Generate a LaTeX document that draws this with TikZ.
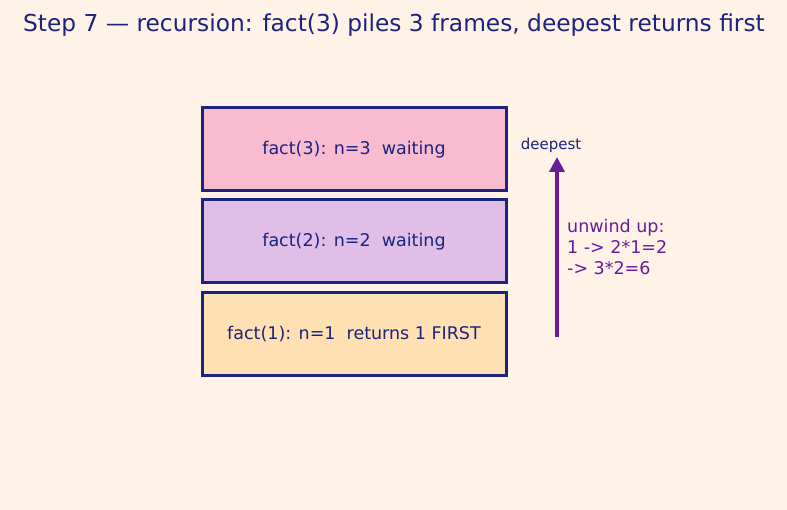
\documentclass[tikz,border=0pt]{standalone}
\usepackage{fontspec}
\setmainfont{DejaVu Sans}
\usetikzlibrary{arrows.meta}
\definecolor{bg}{HTML}{FFF3E8}
\definecolor{navy}{HTML}{1A237E}
\definecolor{purp}{HTML}{6A1B9A}
\definecolor{pinkf}{HTML}{F8BBD0}
\definecolor{lavf}{HTML}{E1BEE7}
\definecolor{peachf}{HTML}{FFE0B2}
\tikzset{
  frame/.style={draw=navy, line width=3pt, minimum width=304pt, minimum height=83pt, inner sep=0pt, text=navy, font=\fontsize{17.5}{20}\selectfont},
}
\begin{document}
\begin{tikzpicture}[x=1pt,y=-1pt]
\fill[bg] (0,0) rectangle (787,510);
\useasboundingbox (0,0) rectangle (787,510);
\node[text=navy, font=\fontsize{23.3}{27}\selectfont] (title) at (394,25) {Step 7 — recursion: fact(3) piles 3 frames, deepest returns first};
\node[frame, fill=pinkf] (f3) at (354,149.5) {fact(3): n=3\ \ waiting};
\node[frame, fill=lavf] (f2) at (354,241.5) {fact(2): n=2\ \ waiting};
\node[frame, fill=peachf] (f1) at (354,334.5) {fact(1): n=1\ \ returns 1 FIRST};
\coordinate (abot) at (557,337);
\coordinate (atop) at (557,157);
\draw[purp, line width=4pt, -{Triangle[length=15pt,width=15pt]}] (abot) -- (atop);
\node[text=navy, font=\fontsize{15}{18}\selectfont] (deep) at (551,145) {deepest};
\node[text=purp, font=\fontsize{17.5}{21}\selectfont, anchor=west, align=left, inner sep=0pt] (unw) at (567,247) {unwind up:\\1 -> 2*1=2\\-> 3*2=6};
\end{tikzpicture}
\end{document}
